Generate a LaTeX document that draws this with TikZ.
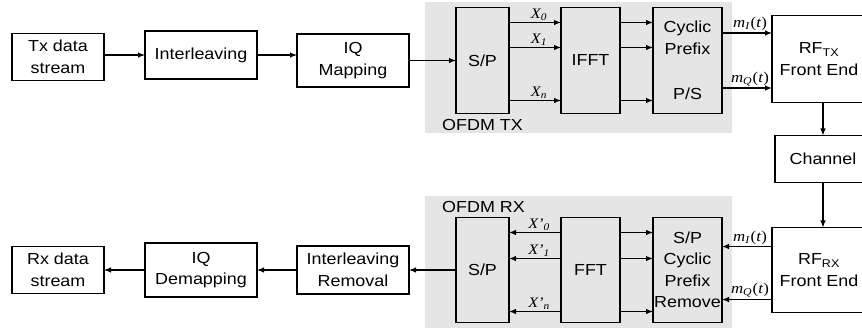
\documentclass[tikz,border=0pt]{standalone}
\usepackage{fontspec}
\setmainfont{Liberation Sans}[FakeStretch=1.12]
\newfontfamily\lblfont{Liberation Serif}[FakeStretch=1.12]
\usetikzlibrary{positioning,calc,backgrounds,arrows.meta}
\tikzset{every node/.style={align=center}, >= {Latex[length=7pt,width=5.5pt]}, font=\fontsize{16}{21.5}\selectfont}
\tikzset{blk/.style={draw, line width=1.1pt, inner sep=0pt, outer sep=0pt},
         sig/.style={->, line width=1.1pt},
         xlbl/.style={font=\lblfont\itshape\fontsize{14.5}{16}\selectfont, inner sep=1.5pt},
         mlbl/.style={font=\lblfont\fontsize{15}{17}\selectfont, inner sep=1.5pt}}
\newcommand{\sigm}[1]{\textit{m}\textsubscript{\textit{#1}}\kern0.5pt(\textit{t})}

\begin{document}
\begin{tikzpicture}[x=1pt, y=1pt]
\useasboundingbox (0,0) rectangle (862,-328);
% transmitter chain
\node [blk, minimum width=92pt, minimum height=47pt] (tx) at (58,-57) {Tx data\\stream};
\node [blk, minimum width=112pt, minimum height=48pt, right=41pt of tx, yshift=2pt] (il) {Interleaving};
\node [blk, minimum width=112pt, minimum height=53pt, right=40pt of il, yshift=-5.5pt] (iq) {IQ\\Mapping};
\node [blk, minimum width=53pt, minimum height=106pt, right=47pt of iq] (sp) {S/P};
\node [blk, minimum width=59pt, minimum height=106pt, right=52pt of sp] (ifft) {IFFT};
\node [blk, minimum width=69pt, minimum height=106pt, right=33pt of ifft] (cp) {Cyclic\\Prefix\\[24pt]P/S};
\node [blk, minimum width=94pt, minimum height=87pt, right=50pt of cp, yshift=1.5pt] (rft) {RF\textsubscript{TX}\\Front End};
\node [blk, minimum width=96pt, minimum height=47pt, below=33pt of rft, xshift=4pt] (ch) {Channel};
% receiver chain
\node [blk, minimum width=94pt, minimum height=85pt, below=45pt of ch, xshift=-4pt] (rfr) {RF\textsubscript{RX}\\Front End};
\node [blk, minimum width=69pt, minimum height=105pt, left=50pt of rfr] (cpr) {S/P\\Cyclic\\Prefix\\Remove};
\node [blk, minimum width=59pt, minimum height=105pt, left=33pt of cpr] (fft) {FFT};
\node [blk, minimum width=53pt, minimum height=105pt, left=52pt of fft] (spr) {S/P};
\node [blk, minimum width=112pt, minimum height=48pt, left=47pt of spr] (ilr) {Interleaving\\Removal};
\node [blk, minimum width=112pt, minimum height=54pt, left=40pt of ilr] (iqd) {IQ\\Demapping};
\node [blk, minimum width=92pt, minimum height=47pt, left=41pt of iqd] (rx) {Rx data\\stream};

% OFDM areas
\begin{scope}[on background layer]
  \fill [gray!20] ($(sp.north west)+(-31pt,5pt)$) rectangle ($(cp.south east)+(10pt,-20pt)$);
  \fill [gray!20] ($(spr.north west)+(-31pt,21pt)$) rectangle ($(cpr.south east)+(10pt,-8pt)$);
\end{scope}
\node [anchor=west, inner sep=0pt] (otx) at ($(sp.south west)+(-14pt,-11pt)$) {OFDM TX};
\node [anchor=west, inner sep=0pt] (orx) at ($(spr.north west)+(-14pt,11pt)$) {OFDM RX};

% transmitter links
\draw [sig] (tx.east |- il) -- (il);
\draw [sig] (il.east) -- (il.east -| iq.west);
\draw [sig] (iq) -- (sp.west |- iq);
\foreach \dy/\lab in {38/0, 13/1, -40/n} {
  \draw [sig] ($(sp.east)+(0,\dy)$) -- ($(ifft.west)+(0,\dy)$) node [xlbl, midway, above, xshift=4pt] {X\textsubscript{\lab}};
  \draw [sig] ($(ifft.east)+(0,\dy)$) -- ($(cp.west)+(0,\dy)$);
}
\coordinate (mi) at ($(rft.west)+(0,26)$);
\coordinate (mq) at ($(rft.west)+(0,-29)$);
\draw [sig] (cp.east |- mi) -- (mi) node [mlbl, midway, above, xshift=3pt] {\sigm{I}};
\draw [sig] (cp.east |- mq) -- (mq) node [mlbl, midway, above, xshift=3pt] {\sigm{Q}};
\draw [sig] (rft.south -| ch) -- (ch);
\draw [sig] (ch) -- (rfr.north -| ch);

% receiver links
\coordinate (ri) at ($(rfr.west)+(0,23.5)$);
\coordinate (rq) at ($(rfr.west)+(0,-29.5)$);
\draw [sig] (ri) -- (cpr.east |- ri) node [mlbl, midway, above, xshift=3pt] {\sigm{I}};
\draw [sig] (rq) -- (cpr.east |- rq) node [mlbl, midway, above, xshift=3pt] {\sigm{Q}};
\foreach \dy/\lab in {37.5/0, 11.5/1, -41.5/n} {
  \draw [sig] ($(fft.west)+(0,\dy)$) -- ($(spr.east)+(0,\dy)$) node [xlbl, midway, above, xshift=4pt] {X’\textsubscript{\lab}};
  \draw [sig] ($(fft.east)+(0,\dy)$) -- ($(cpr.west)+(0,\dy)$);
}
\draw [sig] (spr) -- (ilr);
\draw [sig] (ilr) -- (iqd);
\draw [sig] (iqd) -- (rx);
\end{tikzpicture}
\end{document}
